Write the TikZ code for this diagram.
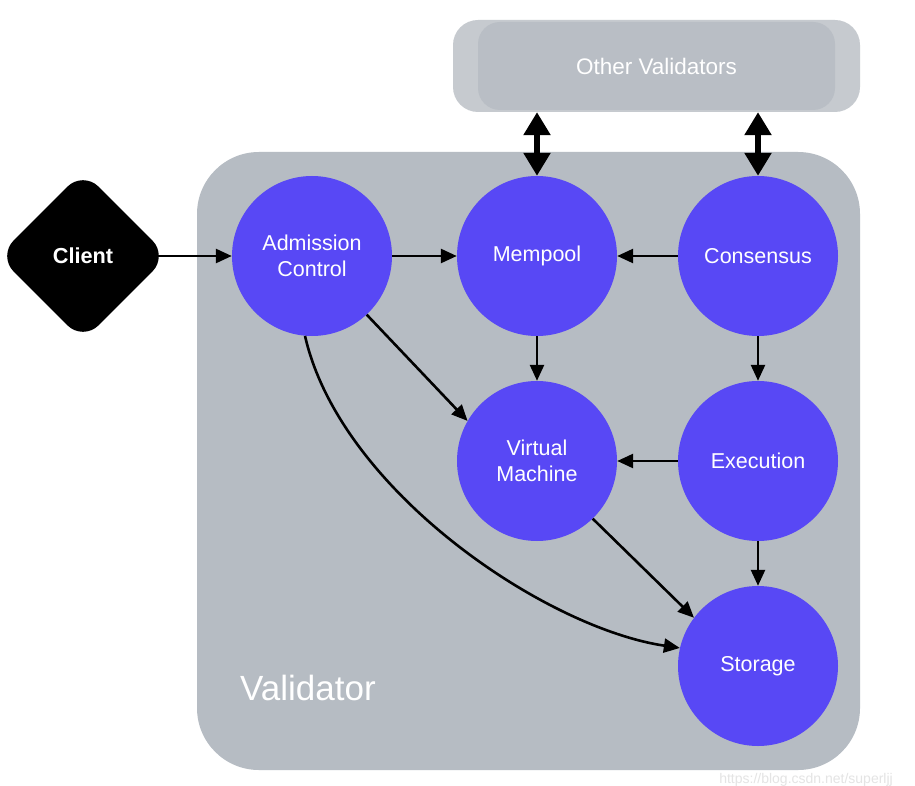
\documentclass[tikz,border=0pt]{standalone}
\usepackage{fontspec}
\setmainfont{Liberation Sans}
\usetikzlibrary{arrows.meta,shapes.geometric}
\definecolor{valbg}{RGB}{182,188,195}
\definecolor{ovouter}{RGB}{198,202,207}
\definecolor{ovinner}{RGB}{185,190,197}
\definecolor{proccol}{RGB}{88,72,245}
\definecolor{wmark}{RGB}{228,228,228}
\tikzset{
  proc/.style={circle, fill=proccol, minimum size=160pt, inner sep=0pt, text=white, align=center, font=\fontsize{21.5}{26}\selectfont},
  arr/.style={-{Triangle[length=16pt,width=14pt]}, line width=2.6pt, black},
  dbl/.style={{Triangle[length=23pt,width=26pt]}-{Triangle[length=23pt,width=26pt]}, line width=5.5pt, black},
}
\begin{document}
\begin{tikzpicture}[x=1pt,y=-1pt]
\useasboundingbox (0,0) rectangle (915,786);
\fill[white] (0,0) rectangle (915,786);
% validator box
\fill[valbg, rounded corners=62pt] (197,152) rectangle (860,770);
% other validators
\fill[ovouter, rounded corners=25pt] (453,20) rectangle (860,112);
\fill[ovinner, rounded corners=22pt] (478,22) rectangle (835,110);
\node[minimum width=407pt, minimum height=92pt, inner sep=0pt, text=white, font=\fontsize{22.5}{26}\selectfont] (ov) at (656.5,66) {Other Validators};
\node[anchor=base west, text=white, inner sep=0pt, font=\fontsize{35}{40}\selectfont] (vlab) at (240,700) {Validator};
% client
\node[diamond, fill=black, rounded corners=22pt, minimum width=170pt, minimum height=170pt, inner sep=0pt, text=white, font=\fontsize{21.7}{25}\selectfont\bfseries] (cli) at (83,256) {Client};
% processes
\node[proc] (adm) at (312,256) {Admission\\Control};
\node[proc] (mem) at (537,256) {Mempool};
\node[proc] (con) at (758,256) {Consensus};
\node[proc] (vm) at (537,461) {Virtual\\Machine};
\node[proc] (exe) at (758,461) {Execution};
\node[proc] (sto) at (758,666) {Storage};
% arrows
\draw[arr] ([xshift=-10pt]cli.east) -- (adm.west);
\draw[arr] (adm) -- (mem);
\draw[arr] (con) -- (mem);
\draw[arr] (mem) -- (vm);
\draw[arr] (con) -- (exe);
\draw[arr] (exe) -- (vm);
\draw[arr] (exe) -- (sto);
\draw[arr] (adm.-47) -- (vm.150);
\draw[arr] (vm.-46) -- (sto.143);
\draw[arr] (adm.-95) .. controls (340,490) and (545,628) .. (sto.167);
\draw[dbl] (mem.north) -- (mem.north |- ov.south);
\draw[dbl] (con.north) -- (con.north |- ov.south);
% watermark
\node[anchor=base east, text=wmark, inner sep=0pt, font=\fontsize{14}{16}\selectfont] (wm) at (893,783) {https://blog.csdn.net/superljj};
\end{tikzpicture}
\end{document}
